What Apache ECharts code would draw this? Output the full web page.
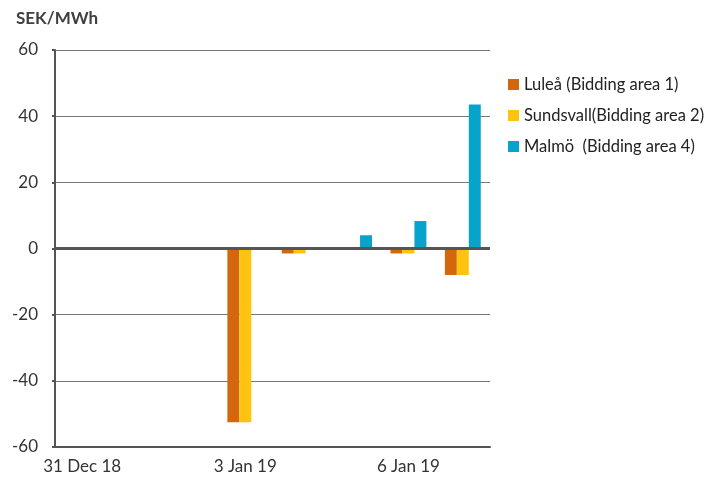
<!DOCTYPE html>
<html>
<head>
<meta charset="utf-8">
<script src="https://cdn.jsdelivr.net/npm/echarts@6/dist/echarts.min.js"></script>
<style>
  html, body { margin: 0; padding: 0; background: #fff; }
  #main { width: 712px; height: 484px; }
</style>
</head>
<body>
<div id="main"></div>
<script>
// dates on the x axis
var days = ['31 Dec 18', '1 Jan 19', '2 Jan 19', '3 Jan 19', '4 Jan 19', '5 Jan 19', '6 Jan 19', '7 Jan 19'];
// SEK/MWh per bidding area
var lulea = [0, 0, 0, -52.5, -1.5, 0, -1.5, -8];
var sundsvall = [0, 0, 0, -52.5, -1.5, 0, -1.5, -8];
var malmo = [0, 0, 0, 0.3, 0.3, 4, 8.3, 43.5];
var seriesNames = ['Luleå (Bidding area 1)', 'Sundsvall(Bidding area 2)', 'Malmö  (Bidding area 4)'];

var font = 'Lato, "Liberation Sans", sans-serif';
var myChart = echarts.init(document.getElementById('main'));

var option = {
  animation: false,
  textStyle: { fontFamily: font },
  color: ['#D2670D', '#FFC20E', '#06A3CB'],
  title: {
    text: 'SEK/MWh',
    left: 11,
    top: 5,
    textStyle: { fontSize: 17, fontWeight: 'bold', color: '#404040', fontFamily: font }
  },
  legend: {
    orient: 'vertical',
    left: 503,
    top: 71,
    itemWidth: 11,
    itemHeight: 11,
    itemGap: 14,
    icon: 'rect',
    textStyle: { fontSize: 16.5, color: '#222', fontFamily: font },
    data: seriesNames
  },
  grid: { left: 55, right: 222, top: 50, bottom: 37 },
  xAxis: {
    type: 'category',
    data: days,
    axisLine: { onZero: false, lineStyle: { color: '#555', width: 2 } },
    axisTick: { show: false },
    axisLabel: { interval: 2, fontSize: 17, color: '#333', margin: 11 }
  },
  yAxis: {
    type: 'value',
    min: -60,
    max: 60,
    interval: 20,
    axisLine: { show: true, lineStyle: { color: '#555', width: 2 } },
    axisTick: { show: true, length: 3, lineStyle: { color: '#555', width: 2 } },
    axisLabel: { fontSize: 17, color: '#333', margin: 17 },
    splitLine: { lineStyle: { color: '#777', width: 1 } }
  },
  series: [
    {
      name: seriesNames[0],
      type: 'bar',
      data: lulea,
      barGap: 0,
      barCategoryGap: '34%',
      markLine: {
        silent: true,
        symbol: 'none',
        label: { show: false },
        lineStyle: { color: '#555', width: 3, type: 'solid' },
        data: [{ yAxis: 0 }]
      }
    },
    { name: seriesNames[1], type: 'bar', data: sundsvall, barGap: 0, barCategoryGap: '34%' },
    { name: seriesNames[2], type: 'bar', data: malmo, barGap: 0, barCategoryGap: '34%' }
  ]
};

myChart.setOption(option, true);
</script>
</body>
</html>
